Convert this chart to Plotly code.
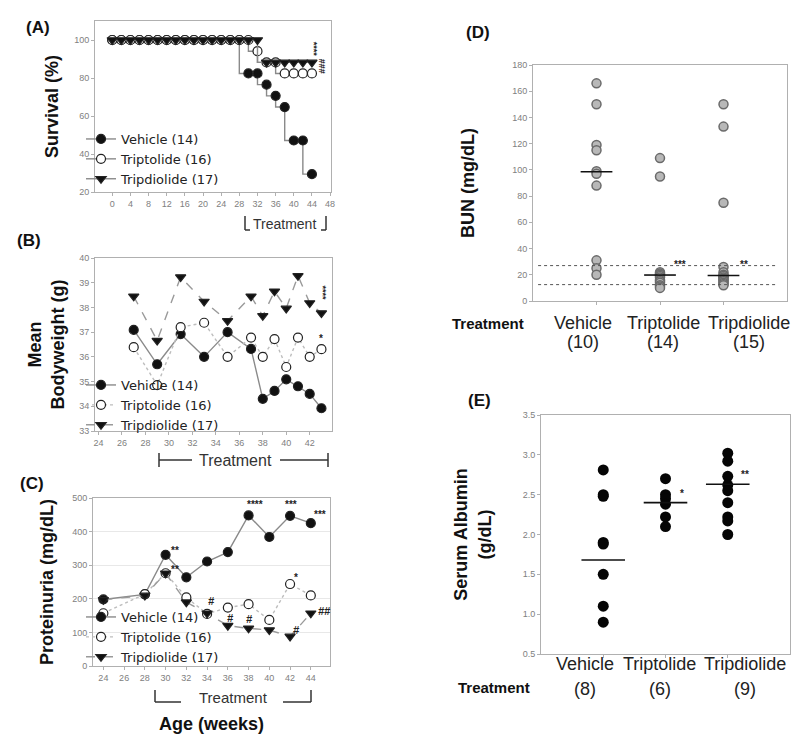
import plotly.graph_objects as go

W, H = 800, 745
FONT = "Arial, 'Liberation Sans', sans-serif"
LEG_FONT = "'DejaVu Sans', Arial, sans-serif"

# ---------------- data ----------------
# (A) survival
weeks_a = list(range(0, 46, 2))
surv_vehicle = [100] * 15 + [82.4, 82.4, 76.5, 70.6, 64.7, 47.1, 47.1, 29.4]
surv_triptolide = [100] * 16 + [94.1, 88.2, 88.2, 82.4, 82.4, 82.4, 82.4]
surv_tripdiolide = [100] * 17 + [88.2] * 6

# (B) mean bodyweight
weeks_b = [27, 29, 31, 33, 35, 37, 38, 39, 40, 41, 42, 43]
bw_vehicle = [37.09, 35.70, 36.92, 36.0, 37.0, 36.32, 34.30, 34.62, 35.09, 34.81, 34.50, 33.92]
bw_triptolide = [36.39, 34.86, 37.2, 37.38, 36.0, 36.78, 36.0, 36.72, 35.59, 36.78, 36.0, 36.31]
bw_tripdiolide = [38.45, 36.66, 39.23, 38.24, 37.46, 38.45, 37.66, 38.65, 37.96, 39.28, 38.18, 37.77]

# (C) proteinuria
weeks_c = [24, 28, 30, 32, 34, 36, 38, 40, 42, 44]
pu_vehicle = [198, 213, 331, 264, 311, 339, 448, 384, 447, 425]
pu_triptolide = [157, 214, 276, 204, 155, 174, 184, 137, 244, 210]
pu_tripdiolide = [197, 210, 276, 190, 157, 120, 112, 107, 88, 157]

legend_names = ["Vehicle (14)", "Triptolide (16)", "Tripdiolide (17)"]

# (D) BUN
groups = ["Vehicle", "Triptolide", "Tripdiolide"]
bun_vehicle = [166, 150, 119, 115, 99, 97, 88, 31, 25, 20]
bun_triptolide = [109, 95, 22, 21, 20, 20, 19, 18, 16, 15, 14, 12, 11, 10]
bun_tripdiolide = [150, 133, 75, 26, 22, 20, 19, 19, 18, 17, 16, 15, 14, 13, 12]
bun_median = [98.6, 19.8, 19.5]
bun_normal = [12.5, 27]
bun_n = [10, 14, 15]
bun_sig = ["", "***", "**"]

# (E) serum albumin
alb_vehicle = [2.81, 2.50, 2.48, 1.90, 1.88, 1.50, 1.10, 0.90]
alb_triptolide = [2.70, 2.50, 2.45, 2.38, 2.22, 2.10]
alb_tripdiolide = [3.02, 2.92, 2.73, 2.62, 2.55, 2.40, 2.22, 2.17, 2.00]
alb_line = [1.68, 2.40, 2.63]
alb_n = [8, 6, 9]
alb_sig = ["", "*", "**"]


def fx(p):
    return p / W


def fy(p):
    return 1 - p / H


fig = go.Figure()


def add_series(x, y, name, n, symbol, fill, dash, lcolor, shape="linear", legend="legend"):
    fig.add_trace(go.Scatter(
        x=x, y=y, name=name, mode="lines+markers",
        xaxis="x" + ("" if n == 1 else str(n)), yaxis="y" + ("" if n == 1 else str(n)),
        legend=legend,
        line=dict(color=lcolor, width=1.4, dash=dash, shape=shape),
        marker=dict(symbol=symbol, size=9, color=fill, line=dict(color="#222", width=1.2)),
    ))


# A
add_series(weeks_a, surv_vehicle, legend_names[0], 1, "circle", "#111", "solid", "#8a8a8a", "vh", "legend")
add_series(weeks_a, surv_triptolide, legend_names[1], 1, "circle", "white", "solid", "#8a8a8a", "vh", "legend")
add_series(weeks_a, surv_tripdiolide, legend_names[2], 1, "triangle-down", "#111", "solid", "#8a8a8a", "vh", "legend")
# B
add_series(weeks_b, bw_vehicle, legend_names[0], 2, "circle", "#111", "solid", "#8a8a8a", legend="legend2")
add_series(weeks_b, bw_triptolide, legend_names[1], 2, "circle", "white", "dot", "#bdbdbd", legend="legend2")
add_series(weeks_b, bw_tripdiolide, legend_names[2], 2, "triangle-down", "#111", "dash", "#9a9a9a", legend="legend2")
# C
add_series(weeks_c, pu_vehicle, legend_names[0], 3, "circle", "#111", "solid", "#8a8a8a", legend="legend3")
add_series(weeks_c, pu_triptolide, legend_names[1], 3, "circle", "white", "dot", "#bdbdbd", legend="legend3")
add_series(weeks_c, pu_tripdiolide, legend_names[2], 3, "triangle-down", "#111", "dash", "#9a9a9a", legend="legend3")

# D
for i, vals in enumerate([bun_vehicle, bun_triptolide, bun_tripdiolide]):
    c = i + 1
    fig.add_trace(go.Scatter(
        x=[c] * len(vals), y=vals, mode="markers", xaxis="x4", yaxis="y4", showlegend=False,
        marker=dict(symbol="circle", size=9, color="#b8b8b8", line=dict(color="#6a6a6a", width=1.5)),
        name=groups[i]))
    fig.add_trace(go.Scatter(
        x=[c - 0.25, c + 0.25], y=[bun_median[i]] * 2, mode="lines", xaxis="x4", yaxis="y4",
        showlegend=False, line=dict(color="#111", width=1.6), hoverinfo="skip"))

# E
for i, vals in enumerate([alb_vehicle, alb_triptolide, alb_tripdiolide]):
    c = i + 1
    fig.add_trace(go.Scatter(
        x=[c] * len(vals), y=vals, mode="markers", xaxis="x5", yaxis="y5", showlegend=False,
        marker=dict(symbol="circle", size=11, color="#050505"), name=groups[i]))
    fig.add_trace(go.Scatter(
        x=[c - 0.35, c + 0.35], y=[alb_line[i]] * 2, mode="lines", xaxis="x5", yaxis="y5",
        showlegend=False, line=dict(color="#111", width=1.6), hoverinfo="skip"))


def ax(**kw):
    base = dict(showline=True, linecolor="#b0b0b0", linewidth=1, mirror=True, ticks="outside",
                ticklen=3, tickcolor="#b0b0b0", tickfont=dict(size=9, color="#808080", family=FONT),
                showgrid=False, zeroline=False, automargin=False)
    base.update(kw)
    return base


TITLE_FONT = dict(size=18, color="#111", family=FONT, weight="bold")

layout = dict(
    width=W, height=H, template="none", paper_bgcolor="white", plot_bgcolor="white",
    margin=dict(l=0, r=0, t=0, b=0), font=dict(family=FONT, color="#222"),
    # A
    xaxis=ax(domain=[fx(87), fx(323)], range=[-3.8, 48.2], tickvals=list(range(0, 49, 4)), anchor="y"),
    yaxis=ax(domain=[fy(184), fy(13)], range=[20, 110], tickvals=[20, 40, 60, 80, 100], anchor="x",
             title=dict(text="Survival (%)", font=TITLE_FONT, standoff=10)),
    # B
    xaxis2=ax(domain=[fx(87), fx(324)], range=[23.7, 43.9], tickvals=list(range(24, 45, 2)), anchor="y2"),
    yaxis2=ax(domain=[fy(423), fy(250)], range=[33, 40], dtick=1, anchor="x2",
              title=dict(text="Mean<br>Bodyweight (g)", font=TITLE_FONT, standoff=9)),
    # C
    xaxis3=ax(domain=[fx(85), fx(322)], range=[23.0, 45.85], tickvals=list(range(24, 47, 2)), anchor="y3",
              title=dict(text="Age (weeks)", font=TITLE_FONT, standoff=35)),
    yaxis3=ax(domain=[fy(658), fy(490)], range=[0, 500], dtick=100, anchor="x3", showgrid=True,
              gridcolor="#e8e8e8",
              title=dict(text="Proteinuria (mg/dL)", font=TITLE_FONT, standoff=13)),
    # D
    xaxis4=ax(domain=[fx(525), fx(779)], range=[0, 4], tickvals=[1, 2, 3], showticklabels=False, anchor="y4"),
    yaxis4=ax(domain=[fy(293), fy(57)], range=[0, 180], dtick=20, anchor="x4",
              title=dict(text="BUN (mg/dL)", font=TITLE_FONT, standoff=32)),
    # E
    xaxis5=ax(domain=[fx(533), fx(782)], range=[0, 4], tickvals=[1, 2, 3], showticklabels=False, anchor="y5"),
    yaxis5=ax(domain=[fy(646), fy(407)], range=[0.5, 3.5], dtick=0.5, tickformat=".1f", anchor="x5",
              title=dict(text="Serum Albumin<br>(g/dL)", font=TITLE_FONT, standoff=26)),
)

LEG = dict(font=dict(size=13, color="#222", family=LEG_FONT), bgcolor="rgba(0,0,0,0)",
           xanchor="left", yanchor="top", itemclick=False, itemwidth=30)
layout["legend"] = dict(LEG, x=fx(73), y=fy(116))
layout["legend2"] = dict(LEG, x=fx(73), y=fy(362))
layout["legend3"] = dict(LEG, x=fx(73), y=fy(594))
fig.update_layout(**layout)

ann = []


def paper_text(text, x, y, size, bold=True, color="#111"):
    ann.append(dict(text=text, x=fx(x), y=fy(y), xref="paper", yref="paper", showarrow=False,
                    xanchor="center", yanchor="middle",
                    font=dict(size=size, color=color, family=FONT, weight="bold" if bold else "normal")))


# panel labels
paper_text("(A)", 30, 20, 17)
paper_text("(B)", 21, 233, 17)
paper_text("(C)", 24, 475, 17)
paper_text("(D)", 470, 25, 17)
paper_text("(E)", 471, 393, 17)


def data_text(text, x, y, n, size=10, angle=0):
    ann.append(dict(text=text, x=x, y=y, xref="x" + ("" if n == 1 else str(n)),
                    yref="y" + ("" if n == 1 else str(n)), showarrow=False, textangle=angle,
                    font=dict(size=size, color="#222", family=FONT, weight="bold")))


# significance marks
data_text("****", 44.6, 95, 1, 9, 90)
data_text("###", 46.4, 86, 1, 9, 90)
data_text("****", 43.15, 38.6, 2, 9, 90)
data_text("*", 43.0, 36.75, 2, 10)
data_text("**", 30.9, 345, 3)
data_text("**", 30.9, 288, 3)
data_text("****", 38.6, 482, 3)
data_text("***", 42.1, 482, 3)
data_text("***", 44.9, 452, 3)
data_text("*", 42.6, 262, 3)
for xx, yy in [(34.4, 193), (36.3, 142), (38.1, 139), (42.6, 106)]:
    data_text("<i>#</i>", xx, yy, 3, 11)
data_text("<i>##</i>", 45.3, 163, 3, 11)
for i in range(3):
    if bun_sig[i]:
        data_text(bun_sig[i], i + 1.32, 28, 4, 10)
    if alb_sig[i]:
        data_text(alb_sig[i], i + 1.27, alb_line[i] + 0.12, 5, 10)

# category labels for D and E
CAT_FONT = dict(size=18, color="#222", family=FONT)
for i, xx in enumerate([0.79, 2.05, 3.40]):
    ann.append(dict(text=groups[i], x=xx, y=fy(315), xref="x4", yref="paper", showarrow=False, font=CAT_FONT))
    ann.append(dict(text=f"({bun_n[i]})", x=xx, y=fy(334), xref="x4", yref="paper", showarrow=False,
                    font=CAT_FONT))
for i, xx in enumerate([0.71, 1.91, 3.28]):
    ann.append(dict(text=groups[i], x=xx, y=fy(668), xref="x5", yref="paper", showarrow=False, font=CAT_FONT))
    ann.append(dict(text=f"({alb_n[i]})", x=xx, y=fy(693), xref="x5", yref="paper", showarrow=False,
                    font=CAT_FONT))
paper_text("Treatment", 480, 316, 15)
paper_text("Treatment", 486, 679, 15)

# treatment brackets
paper_text("Treatment", 276, 216, 14, bold=False, color="#333")
paper_text("Treatment", 227, 452, 16, bold=False, color="#333")
paper_text("Treatment", 225, 689, 15, bold=False, color="#333")

shapes = []


def seg(x0, y0, x1, y1, color="#333", width=1.5, dash="solid", xref="paper", yref="paper"):
    if xref == "paper":
        x0, x1 = fx(x0), fx(x1)
    if yref == "paper":
        y0, y1 = fy(y0), fy(y1)
    shapes.append(dict(type="line", x0=x0, y0=y0, x1=x1, y1=y1, xref=xref, yref=yref,
                       line=dict(color=color, width=width, dash=dash)))


# A bracket
seg(237, 208, 237, 222); seg(237, 222, 242, 222)
seg(318, 208, 318, 222); seg(313, 222, 318, 222)
# B bracket
seg(151, 445, 151, 459); seg(151, 452, 184, 452); seg(272, 452, 320, 452); seg(320, 445, 320, 459)
# C bracket
seg(147, 682, 147, 694); seg(147, 694, 173, 694); seg(275, 694, 303, 694); seg(303, 682, 303, 694)

# BUN normal range lines
for v in bun_normal:
    seg(0.08, v, 3.83, v, color="#555", width=1, dash="dot", xref="x4", yref="y4")

fig.update_layout(annotations=ann, shapes=shapes)
fig.write_html("out.html")
